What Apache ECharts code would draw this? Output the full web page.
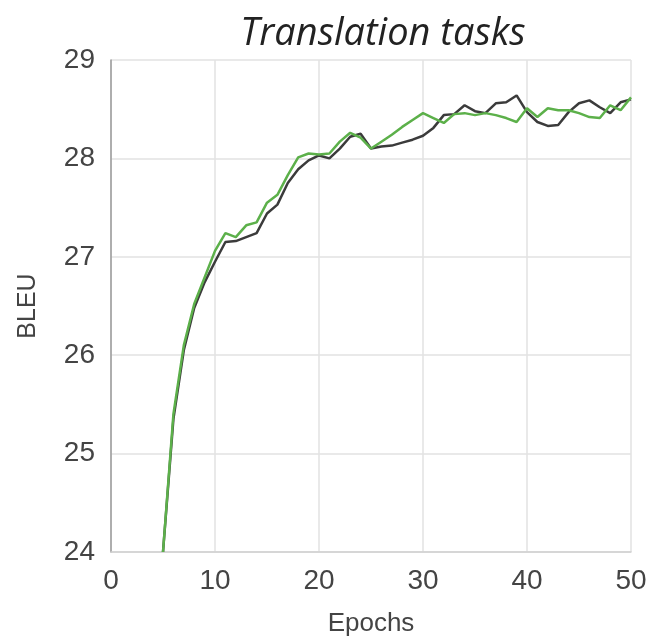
<!DOCTYPE html>
<html>
<head>
<meta charset="utf-8">
<script src="https://cdn.jsdelivr.net/npm/echarts@6/dist/echarts.min.js"></script>
<style>
  html, body { margin: 0; padding: 0; background: #ffffff; }
  #chart { width: 651px; height: 642px; }
</style>
</head>
<body>
<div id="chart"></div>
<script>
// BLEU score per training epoch for the two translation runs
const epochs = [5, 6, 7, 8, 9, 10, 11, 12, 13, 14, 15, 16, 17, 18, 19, 20, 21, 22, 23, 24, 25, 26, 27,
  28, 29, 30, 31, 32, 33, 34, 35, 36, 37, 38, 39, 40, 41, 42, 43, 44, 45, 46, 47, 48, 49, 50];

const bleuBaseline = [24.0, 25.35, 26.05, 26.48, 26.74, 26.95, 27.15, 27.16, 27.20, 27.24, 27.44, 27.53,
  27.75, 27.89, 27.98, 28.03, 28.00, 28.10, 28.22, 28.25, 28.10, 28.12, 28.13, 28.16, 28.19, 28.23,
  28.31, 28.44, 28.45, 28.54, 28.48, 28.46, 28.56, 28.57, 28.64, 28.47, 28.37, 28.33, 28.34, 28.47,
  28.56, 28.59, 28.52, 28.46, 28.57, 28.60];

const bleuGreen = [24.0, 25.40, 26.10, 26.52, 26.79, 27.06, 27.24, 27.20, 27.32, 27.35, 27.55, 27.63,
  27.83, 28.01, 28.05, 28.04, 28.05, 28.17, 28.26, 28.21, 28.10, 28.17, 28.24, 28.32, 28.39, 28.46,
  28.41, 28.36, 28.45, 28.46, 28.44, 28.46, 28.44, 28.41, 28.37, 28.51, 28.42, 28.51, 28.49, 28.49,
  28.46, 28.42, 28.41, 28.54, 28.49, 28.62];

const xTicks = [0, 10, 20, 30, 40, 50];
const yTicks = [24, 25, 26, 27, 28, 29];

const toPairs = (xs, ys) => xs.map((x, i) => [x, ys[i]]);

const chart = echarts.init(document.getElementById('chart'), null, { renderer: 'canvas' });

chart.setOption({
  backgroundColor: '#ffffff',
  animation: false,
  title: {
    text: 'Translation tasks',
    left: 378,
    textAlign: 'center',
    top: 10,
    textStyle: {
      fontFamily: 'Open Sans',
      fontStyle: 'italic',
      fontWeight: 'normal',
      fontSize: 38,
      color: '#222222'
    }
  },
  grid: { left: 111, right: 20, top: 60, bottom: 90, containLabel: false },
  xAxis: {
    type: 'value',
    min: xTicks[0],
    max: xTicks[xTicks.length - 1],
    interval: 10,
    name: 'Epochs',
    nameLocation: 'middle',
    nameGap: 59,
    nameTextStyle: { fontFamily: 'Liberation Sans', fontSize: 26, color: '#444444' },
    axisLine: { show: true, lineStyle: { color: '#d0d0d0', width: 1.5 } },
    axisTick: { show: false },
    axisLabel: { fontFamily: 'Liberation Sans', fontSize: 28, color: '#444444', margin: 15 },
    splitLine: { show: true, lineStyle: { color: '#e2e2e2', width: 1.5 } }
  },
  yAxis: {
    type: 'value',
    min: yTicks[0],
    max: yTicks[yTicks.length - 1],
    interval: 1,
    name: 'BLEU',
    nameLocation: 'middle',
    nameGap: 70,
    nameTextStyle: { fontFamily: 'Liberation Sans', fontSize: 25, color: '#444444' },
    axisLine: { show: true, lineStyle: { color: '#9a9a9a', width: 1.5 } },
    axisTick: { show: false },
    axisLabel: { fontFamily: 'Liberation Sans', fontSize: 28, color: '#444444', margin: 16 },
    splitLine: { show: true, lineStyle: { color: '#e2e2e2', width: 1.5 } }
  },
  series: [
    {
      type: 'line',
      data: toPairs(epochs, bleuBaseline),
      showSymbol: false,
      clip: true,
      lineStyle: { color: '#3b3b3b', width: 2.5 },
      z: 2
    },
    {
      type: 'line',
      data: toPairs(epochs, bleuGreen),
      showSymbol: false,
      clip: true,
      lineStyle: { color: '#5cb04a', width: 2.5 },
      z: 3
    }
  ]
});
</script>
</body>
</html>
